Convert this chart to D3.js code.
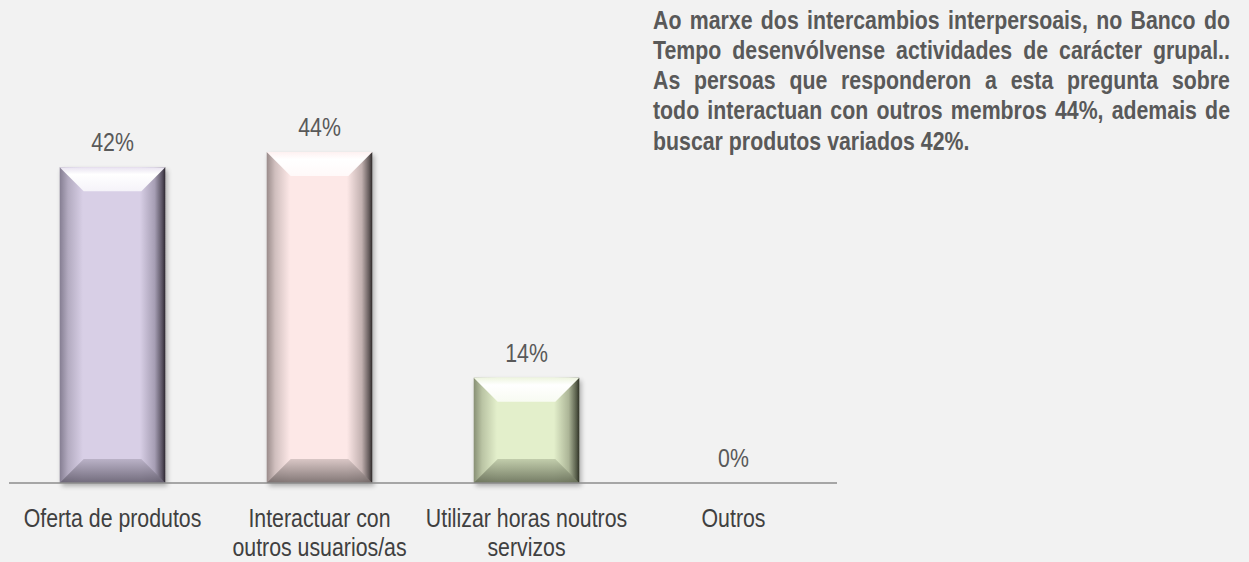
<!DOCTYPE html>
<html>
<head>
<meta charset="utf-8">
<script src="https://cdn.jsdelivr.net/npm/d3@7"></script>
<style>
  body { margin: 0; background: #f2f2f2; }
  svg { display: block; }
  text { font-family: "Liberation Sans", Arial, sans-serif; }
</style>
</head>
<body>
<svg id="chart" width="1249" height="562"></svg>
<script>
// data
categories = [['Oferta de produtos'], ['Interactuar con', 'outros usuarios/as'], ['Utilizar horas noutros', 'servizos'], ['Outros']]
values = [42, 44, 14, 0]
baseColours = ['#d8cfe6', '#fde8e7', '#e3efcb', '#dddddd']
edgeColours = ['#857e92', '#9a8c8b', '#878f74', '#888888']
darkColours = ['#2c2832', '#2e2a2a', '#2f3326', '#333333']
noteLines = [
  'Ao marxe dos intercambios interpersoais, no Banco do',
  'Tempo desenvólvense actividades de carácter grupal..',
  'As persoas que responderon a esta pregunta sobre',
  'todo interactuan con outros membros 44%, ademais de',
  'buscar produtos variados 42%.'
]

// no narrow font installed, so squeeze a normal one
narrow = 0.82

svg = d3.select('#chart')
defs = svg.append('defs')

x = d3.scaleBand()
      .domain(d3.range(values.length))
      .range([9, 837])
      .paddingInner(0.49)
      .paddingOuter(0.245)
y = d3.scaleLinear()
      .domain([0, 50])
      .range([483, 107])

bevel = 24

// soft shadow under the bars
f = defs.append('filter').attr('id', 'shadow').attr('x', '-20%').attr('y', '-10%').attr('width', '150%').attr('height', '130%')
f.append('feGaussianBlur').attr('in', 'SourceAlpha').attr('stdDeviation', 2.5)
f.append('feOffset').attr('dx', 2).attr('dy', 3).attr('result', 'b')
f.append('feComponentTransfer').append('feFuncA').attr('type', 'linear').attr('slope', 0.3)
m = f.append('feMerge')
m.append('feMergeNode')
m.append('feMergeNode').attr('in', 'SourceGraphic')

values.forEach(function(v, i) {
  g = defs.append('linearGradient').attr('id', 'side' + i).attr('x1', 0).attr('x2', 1).attr('y1', 0).attr('y2', 0)
  g.append('stop').attr('offset', '0%').attr('stop-color', edgeColours[i])
  g.append('stop').attr('offset', '8%').attr('stop-color', d3.interpolateRgb(edgeColours[i], baseColours[i])(0.55))
  g.append('stop').attr('offset', '22%').attr('stop-color', baseColours[i])
  g.append('stop').attr('offset', '76%').attr('stop-color', baseColours[i])
  g.append('stop').attr('offset', '90%').attr('stop-color', d3.interpolateRgb(baseColours[i], edgeColours[i])(0.6))
  g.append('stop').attr('offset', '97%').attr('stop-color', d3.interpolateRgb(edgeColours[i], darkColours[i])(0.5))
  g.append('stop').attr('offset', '100%').attr('stop-color', darkColours[i])

  t = defs.append('linearGradient').attr('id', 'top' + i).attr('x1', 0).attr('x2', 0).attr('y1', 0).attr('y2', 1)
  t.append('stop').attr('offset', '0%').attr('stop-color', d3.interpolateRgb(baseColours[i], '#fff')(0.4))
  t.append('stop').attr('offset', '30%').attr('stop-color', '#ffffff')
  t.append('stop').attr('offset', '100%').attr('stop-color', d3.interpolateRgb(baseColours[i], '#fff')(0.75))

  b = defs.append('linearGradient').attr('id', 'bot' + i).attr('x1', 0).attr('x2', 0).attr('y1', 0).attr('y2', 1)
  b.append('stop').attr('offset', '0%').attr('stop-color', d3.interpolateRgb(baseColours[i], edgeColours[i])(0.4))
  b.append('stop').attr('offset', '100%').attr('stop-color', d3.interpolateRgb(edgeColours[i], darkColours[i])(0.35))
})

function corners(i) {
  x0 = x(i)
  x1 = x(i) + x.bandwidth()
  y0 = y(values[i])
  y1 = y(0)
  b = Math.min(bevel, (y1 - y0) / 2, x.bandwidth() / 2)
  return { x0: x0, x1: x1, y0: y0, y1: y1, b: b }
}

bars = svg.selectAll('g.bar')
          .data(values.map(function(v, i) { return { v: v, i: i } }).filter(function(d) { return d.v > 0 }))
          .enter()
          .append('g')
          .classed('bar', true)
          .attr('filter', 'url(#shadow)')

bars.append('rect')
    .attr('x', function(d) { return x(d.i) })
    .attr('y', function(d) { return y(d.v) })
    .attr('width', x.bandwidth())
    .attr('height', function(d) { return y(0) - y(d.v) })
    .attr('fill', function(d) { return 'url(#side' + d.i + ')' })

bars.append('polygon')
    .attr('points', function(d) {
      c = corners(d.i)
      return [[c.x0, c.y0], [c.x1, c.y0], [c.x1 - c.b, c.y0 + c.b], [c.x0 + c.b, c.y0 + c.b]].join(' ')
    })
    .attr('fill', function(d) { return 'url(#top' + d.i + ')' })

bars.append('polygon')
    .attr('points', function(d) {
      c = corners(d.i)
      return [[c.x0, c.y1], [c.x1, c.y1], [c.x1 - c.b, c.y1 - c.b], [c.x0 + c.b, c.y1 - c.b]].join(' ')
    })
    .attr('fill', function(d) { return 'url(#bot' + d.i + ')' })
    .attr('opacity', 0.9)

// axis line
svg.append('line')
   .attr('x1', x.range()[0])
   .attr('x2', x.range()[1])
   .attr('y1', y(0))
   .attr('y2', y(0))
   .attr('stroke', '#8c8c8c')
   .attr('stroke-width', 1.5)

function squeeze(px, py) {
  return 'translate(' + px + ',' + py + ') scale(' + narrow + ',1)'
}

// value labels
svg.selectAll('text.value')
   .data(values)
   .enter()
   .append('text')
   .classed('value', true)
   .attr('transform', function(d, i) { return squeeze(x(i) + x.bandwidth() / 2, y(d) - 16) })
   .attr('text-anchor', 'middle')
   .attr('font-size', 26)
   .attr('fill', '#595959')
   .text(function(d) { return d + '%' })

// category labels
categories.forEach(function(lines, i) {
  svg.selectAll(null)
     .data(lines)
     .enter()
     .append('text')
     .classed('cat', true)
     .attr('transform', function(d, j) { return squeeze(x(i) + x.bandwidth() / 2, 527 + j * 29) })
     .attr('text-anchor', 'middle')
     .attr('font-size', 26)
     .attr('fill', '#404040')
     .text(function(d) { return d })
})

// justified note
noteLeft = 653
noteRight = 1230
lineHeight = 30.3

function wordWidth(s) {
  t = svg.append('text').attr('font-size', 26).attr('font-weight', 'bold').text(s)
  l = t.node().getComputedTextLength() * narrow
  t.remove()
  return l
}
spaceW = wordWidth('a a') - wordWidth('aa')

noteLines.forEach(function(line, li) {
  ws = line.split(' ')
  widths = ws.map(wordWidth)
  last = li === noteLines.length - 1
  gap = last ? spaceW : (noteRight - noteLeft - d3.sum(widths)) / (ws.length - 1)
  pos = noteLeft
  ws.forEach(function(word, k) {
    svg.append('text')
       .attr('transform', squeeze(pos, 28.5 + li * lineHeight))
       .attr('font-size', 26)
       .attr('font-weight', 'bold')
       .attr('fill', '#595959')
       .text(word)
    pos += widths[k] + gap
  })
})
</script>
</body>
</html>
